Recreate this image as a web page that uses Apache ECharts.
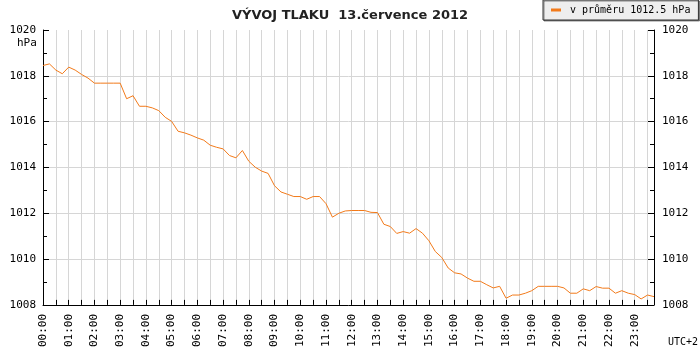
<!DOCTYPE html>
<html>
<head>
<meta charset="utf-8">
<script src="https://cdn.jsdelivr.net/npm/echarts@6/dist/echarts.min.js"></script>
<style>
  html, body { margin: 0; padding: 0; background: #fff; }
  #chart { width: 700px; height: 350px; }
</style>
</head>
<body>
<div id="chart"></div>
<script>
// 15 minute readings, 00:00 .. 23:45
const times = [];
for (let h = 0; h < 24; h++) {
  for (let m = 0; m < 60; m += 15) {
    times.push((h < 10 ? "0" : "") + h + ":" + (m < 10 ? "0" : "") + m);
  }
}

const pressure = [
  1018.45, 1018.52, 1018.25, 1018.09, 1018.38, 1018.25, 1018.06, 1017.90,
  1017.68, 1017.68, 1017.68, 1017.68, 1017.68, 1017.00, 1017.13, 1016.67,
  1016.67, 1016.60, 1016.48, 1016.19, 1016.01, 1015.58, 1015.51, 1015.41,
  1015.29, 1015.19, 1014.97, 1014.88, 1014.81, 1014.52, 1014.42, 1014.74,
  1014.27, 1014.01, 1013.84, 1013.74, 1013.20, 1012.93, 1012.83, 1012.73,
  1012.73, 1012.61, 1012.73, 1012.73, 1012.42, 1011.83, 1012.00, 1012.10,
  1012.12, 1012.12, 1012.12, 1012.04, 1012.03, 1011.52, 1011.42, 1011.12,
  1011.20, 1011.13, 1011.33, 1011.13, 1010.80, 1010.33, 1010.07, 1009.61,
  1009.40, 1009.35, 1009.17, 1009.03, 1009.03, 1008.88, 1008.74, 1008.81,
  1008.29, 1008.43, 1008.43, 1008.51, 1008.62, 1008.81, 1008.81, 1008.81,
  1008.81, 1008.74, 1008.51, 1008.51, 1008.70, 1008.62, 1008.80, 1008.73,
  1008.73, 1008.51, 1008.62, 1008.51, 1008.45, 1008.26, 1008.43, 1008.36
];

const titleText = "VÝVOJ TLAKU  13.července 2012";
const seriesName = "v průměru 1012.5 hPa";
const yMin = 1008;
const yMax = 1020;

const mono = "DejaVu Sans Mono";
const gridColor = "#d6d6d6";

function yAxisDef(pos) {
  return {
    type: "value",
    position: pos,
    min: yMin,
    max: yMax,
    interval: 2,
    axisLine: { show: true, lineStyle: { color: "#000", width: 1 } },
    axisTick: { show: true, inside: true, length: 6, lineStyle: { color: "#000" } },
    minorTick: { show: true, splitNumber: 2, length: 4, lineStyle: { color: "#000" } },
    axisLabel: {
      color: "#000",
      fontFamily: mono,
      fontSize: 11,
      margin: pos === "left" ? 7 : 8,
      formatter: function(v) {
        return String(v);
      }
    },
    splitLine: {
      show: pos === "left",
      showMaxLine: false,
      lineStyle: { color: gridColor, width: 1 }
    }
  };
}

const chart = echarts.init(document.getElementById("chart"));
chart.setOption({
  animation: false,
  title: {
    text: titleText,
    left: "center",
    top: 4,
    textStyle: {
      fontFamily: "DejaVu Sans",
      fontWeight: "bold",
      fontSize: 13,
      color: "#222"
    }
  },
  legend: {
    left: 543,
    top: 0,
    padding: [5, 8, 5, 8],
    backgroundColor: "#eeeeee",
    borderColor: "#333",
    borderWidth: 1,
    shadowColor: "rgba(0,0,0,0.45)",
    shadowOffsetX: 1,
    shadowOffsetY: 1,
    shadowBlur: 0,
    icon: "rect",
    itemWidth: 10,
    itemHeight: 3,
    textStyle: {
      fontFamily: mono,
      fontSize: 10,
      color: "#000",
      padding: [0, 0, 0, 4]
    },
    data: [seriesName]
  },
  grid: { left: 43, right: 46, top: 30, bottom: 44, containLabel: false },
  xAxis: {
    type: "category",
    data: times,
    boundaryGap: false,
    axisLine: { show: true, lineStyle: { color: "#000", width: 1 } },
    axisTick: { show: true, inside: true, length: 5, interval: 1, lineStyle: { color: "#000" } },
    axisLabel: {
      interval: 3,
      rotate: 90,
      margin: 9,
      color: "#000",
      fontFamily: mono,
      fontSize: 11
    },
    splitLine: { show: true, interval: 1, lineStyle: { color: gridColor, width: 1 } }
  },
  yAxis: [yAxisDef("left"), yAxisDef("right")],
  graphic: [
    {
      type: "text",
      left: 17,
      top: 38,
      style: { text: "hPa", font: "11px " + mono, fill: "#000" }
    },
    {
      type: "text",
      left: 668,
      top: 337,
      style: { text: "UTC+2", font: "10px " + mono, fill: "#000" }
    }
  ],
  series: [
    {
      name: seriesName,
      type: "line",
      data: pressure,
      showSymbol: false,
      symbol: "none",
      lineStyle: { color: "#f27a1a", width: 1 },
      itemStyle: { color: "#f27a1a" }
    }
  ]
});
</script>
</body>
</html>
